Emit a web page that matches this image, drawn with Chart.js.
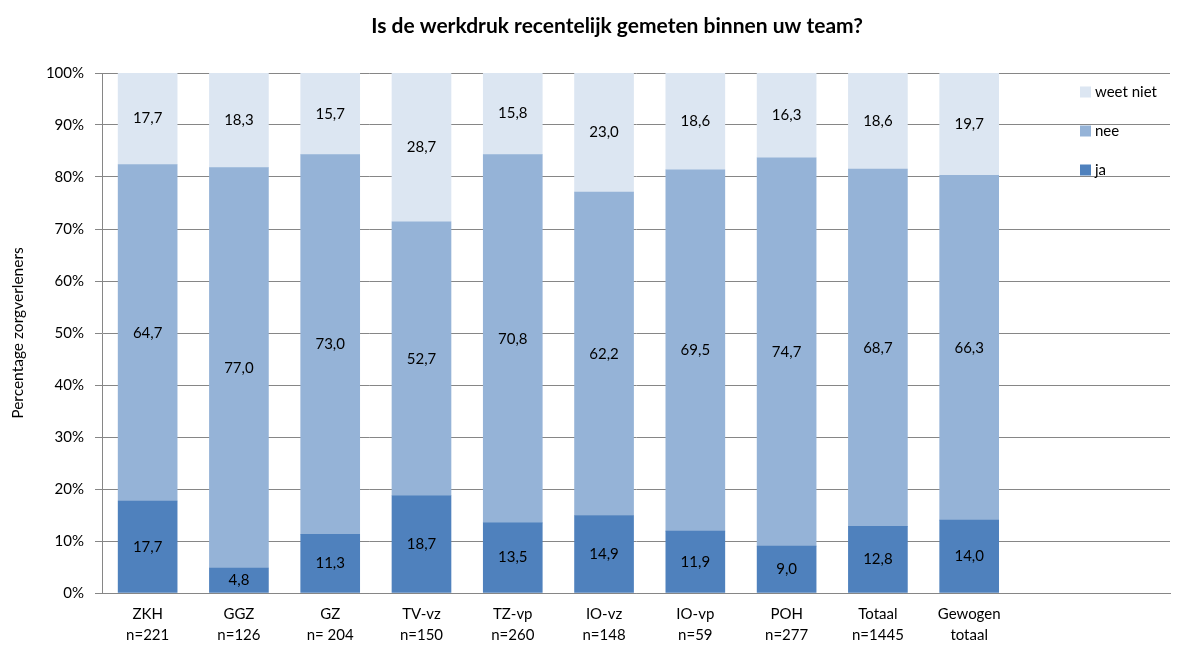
<!DOCTYPE html>
<html>
<head>
<meta charset="utf-8">
<script src="https://cdn.jsdelivr.net/npm/chart.js@4/dist/chart.umd.min.js"></script>
<style>
  html, body { margin: 0; padding: 0; background: #fff; }
  #wrap { width: 1186px; height: 648px; position: relative; }
</style>
</head>
<body>
<div id="wrap"><canvas id="werkdrukChart"></canvas></div>
<script>
// categorieën (twee regels per label)
const categories = [
    ['ZKH', 'n=221'], ['GGZ', 'n=126'], ['GZ', 'n= 204'], ['TV-vz', 'n=150'],
    ['TZ-vp', 'n=260'], ['IO-vz', 'n=148'], ['IO-vp', 'n=59'], ['POH', 'n=277'],
    ['Totaal', 'n=1445'], ['Gewogen', 'totaal']
];
const jaValues = [17.7, 4.8, 11.3, 18.7, 13.5, 14.9, 11.9, 9.0, 12.8, 14.0];
const neeValues = [64.7, 77.0, 73.0, 52.7, 70.8, 62.2, 69.5, 74.7, 68.7, 66.3];
const weetNietValues = [17.7, 18.3, 15.7, 28.7, 15.8, 23.0, 18.6, 16.3, 18.6, 19.7];
const yTicks = [0, 10, 20, 30, 40, 50, 60, 70, 80, 90, 100];
const chartTitle = 'Is de werkdruk recentelijk gemeten binnen uw team?';

const FONT = 'Lato, "Open Sans", sans-serif';
const GRID = '#868686';

function toPoints(values) {
    return values.map((v, i) => ({ x: i, y: v }));
}

// titel, iets rechts van het midden zoals in het origineel
const titlePlugin = {
    id: 'titlePlugin',
    afterDraw(chart) {
        const ctx = chart.ctx;
        ctx.save();
        ctx.font = 'bold 21px ' + FONT;
        ctx.fillStyle = '#000';
        ctx.textAlign = 'center';
        ctx.textBaseline = 'middle';
        ctx.fillText(chartTitle, chart.width / 2 + 24, 26);
        ctx.restore();
    }
};

// waarden in het midden van elk segment
const segmentLabels = {
    id: 'segmentLabels',
    afterDatasetsDraw(chart) {
        const ctx = chart.ctx;
        ctx.save();
        ctx.font = '15px ' + FONT;
        ctx.fillStyle = '#000';
        ctx.textAlign = 'center';
        ctx.textBaseline = 'middle';
        chart.data.datasets.forEach((ds, di) => {
            const meta = chart.getDatasetMeta(di);
            meta.data.forEach((bar, i) => {
                const v = ds.data[i].y;
                const y = (bar.y + bar.base) / 2;
                ctx.fillText(v.toFixed(1).replace('.', ','), bar.x, y);
            });
        });
        ctx.restore();
    }
};

// legenda binnen het grafiekgebied, rechtsboven
const innerLegend = {
    id: 'innerLegend',
    afterDraw(chart) {
        const ctx = chart.ctx;
        const area = chart.chartArea;
        const x = area.right - 90;
        let y = area.top + 19;
        ctx.save();
        ctx.font = '15px ' + FONT;
        ctx.textBaseline = 'middle';
        ctx.textAlign = 'left';
        chart.data.datasets.slice().reverse().forEach(ds => {
            ctx.fillStyle = ds.backgroundColor;
            ctx.fillRect(x, y - 5.5, 11, 11);
            ctx.fillStyle = '#000';
            ctx.fillText(ds.label, x + 15, y);
            y += 39;
        });
        ctx.restore();
    }
};

new Chart(document.getElementById('werkdrukChart'), {
    type: 'bar',
    data: {
        datasets: [
            { label: 'ja', data: toPoints(jaValues), backgroundColor: '#4F81BD' },
            { label: 'nee', data: toPoints(neeValues), backgroundColor: '#95B3D7' },
            { label: 'weet niet', data: toPoints(weetNietValues), backgroundColor: '#DCE6F2' }
        ]
    },
    options: {
        responsive: true,
        maintainAspectRatio: false,
        animation: false,
        barThickness: 59,
        layout: { padding: { top: 73, right: 16, left: 0, bottom: 0 } },
        plugins: {
            legend: { display: false },
            tooltip: { enabled: false },
            title: { display: false }
        },
        scales: {
            x: {
                type: 'linear',
                stacked: true,
                offset: false,
                min: -0.5,
                max: 11.2,
                afterFit: scale => { scale.height = 55; },
                afterBuildTicks: scale => {
                    scale.ticks = categories.map((c, i) => ({ value: i }));
                },
                grid: { display: false, drawTicks: false },
                border: { display: true, color: GRID, width: 1 },
                ticks: {
                    autoSkip: false,
                    maxRotation: 0,
                    padding: 10,
                    color: '#000',
                    font: { family: FONT, size: 15, lineHeight: 1.45 },
                    callback: value => categories[value] || ''
                }
            },
            y: {
                stacked: true,
                min: 0,
                max: 100,
                afterFit: scale => { scale.width = 102; },
                afterBuildTicks: scale => {
                    scale.ticks = yTicks.map(v => ({ value: v }));
                },
                grid: { color: GRID, lineWidth: 1, tickLength: 7 },
                border: { display: true, color: GRID, width: 1 },
                ticks: {
                    padding: 11,
                    color: '#000',
                    font: { family: FONT, size: 15 },
                    callback: value => value + '%'
                },
                title: {
                    display: true,
                    text: 'Percentage zorgverleners',
                    color: '#000',
                    font: { family: FONT, size: 15.5 },
                    padding: { top: 9, bottom: 0 }
                }
            }
        }
    },
    plugins: [segmentLabels, innerLegend, titlePlugin]
});
</script>
</body>
</html>
